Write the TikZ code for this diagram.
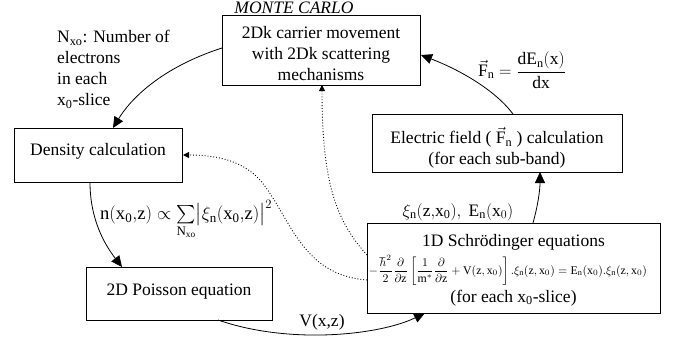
\documentclass[tikz,border=0pt]{standalone}
\usepackage{fontspec}
\setmainfont{Liberation Serif}
\usepackage{amsmath}
\usepackage{graphicx}
\usetikzlibrary{arrows.meta}
\begin{document}
\begin{tikzpicture}[x=1pt,y=-1pt,
  box/.style={draw,line width=0.9pt,inner sep=0pt,align=center,font=\fontsize{17.5}{21.5}\selectfont},
  lbl/.style={inner sep=0pt,font=\fontsize{17.5}{21}\selectfont},
  flow/.style={line width=0.8pt,-{Triangle[length=11pt,width=10pt]}},
  dot/.style={line width=0.9pt,dotted,-{Triangle[length=6pt,width=6pt]}}]
\useasboundingbox (0,0) rectangle (678,343);
% boxes
\node[box,minimum width=198pt,minimum height=70pt] (mc) at (321,50) {};
\node[lbl,align=center] (mct) at (321,54) {2Dk carrier movement\\with 2Dk scattering\\mechanisms};
\node[box,minimum width=168pt,minimum height=54pt] (dens) at (98,155) {};
\node[lbl] (denst) at (98,151) {Density calculation};
\node[box,minimum width=186pt,minimum height=53pt] (pois) at (179,293.5) {};
\node[lbl] (poist) at (179,292) {2D Poisson equation};
\node[box,minimum width=250pt,minimum height=58pt] (ef) at (497,143) {};
\node[lbl,align=center] (eft) at (497,148) {Electric field ( $\vec{\mathrm{F}}_{\mathrm{n}}$ ) calculation\\(for each sub-band)};
\node[box,minimum width=293pt,minimum height=90pt] (sch) at (513.5,268) {};
\node[lbl] (scht1) at (513.5,242) {1D Schrödinger equations};
\node[inner sep=0pt] (scheq) at (508,270) {\resizebox{278pt}{!}{$-\dfrac{\hbar^2}{2}\dfrac{\partial}{\partial \mathrm{z}}\left[\dfrac{1}{\mathrm{m}^*}\dfrac{\partial}{\partial \mathrm{z}}+\mathrm{V}(\mathrm{z},\mathrm{x}_0)\right].\xi_{\mathrm{n}}(\mathrm{z},\mathrm{x}_0)=\mathrm{E}_{\mathrm{n}}(\mathrm{x}_0).\xi_{\mathrm{n}}(\mathrm{z},\mathrm{x}_0)$}};
\node[lbl] (scht3) at (513.5,298) {(for each x\textsubscript{0}-slice)};
% title
\node[lbl,anchor=base,font=\fontsize{17.5}{21}\selectfont\itshape] (title) at (294,13) {\underline{MONTE CARLO}};
% labels
\node[lbl,anchor=north west,align=left] (nxo) at (57,30) {N\textsubscript{xo}: Number of\\electrons\\in each\\x\textsubscript{0}-slice};
\node[lbl] (flbl) at (522,70) {$\vec{\mathrm{F}}_{\mathrm{n}}=\dfrac{\mathrm{dE}_{\mathrm{n}}(\mathrm{x})}{\mathrm{dx}}$};
\node[lbl] (xilbl) at (458,212) {$\xi_{\mathrm{n}}(\mathrm{z{,}x_0}),\ \mathrm{E}_{\mathrm{n}}(\mathrm{x}_0)$};
\node[lbl,anchor=west] (nlbl) at (100,220) {\resizebox{172pt}{!}{$\mathrm{n(x_0{,}z)}\propto\sum\limits_{\mathrm{N_{xo}}}\bigl|\xi_{\mathrm{n}}(\mathrm{x_0{,}z})\bigr|^2$}};
\node[lbl] (vlbl) at (322,322) {V(x,z)};
% coordinates
\coordinate (a1) at (222,48);
\coordinate (a2) at (113,128);
\coordinate (b1) at (90,182);
\coordinate (b2) at (122,267);
\coordinate (c1) at (218,320);
\coordinate (c2) at (425,313);
\coordinate (d1) at (533,223);
\coordinate (d2) at (540,172);
\coordinate (e1) at (513,114);
\coordinate (e2) at (421,55);
\coordinate (f1) at (367,255);
\coordinate (f2) at (322,85);
\coordinate (g1) at (367,280);
\coordinate (g2) at (183,155);
% connectors
\draw[flow] (a1) .. controls (160,68) and (130,100) .. (a2);
\draw[flow] (b1) .. controls (90,220) and (105,245) .. (b2);
\draw[flow] (c1) .. controls (290,345) and (380,335) .. (c2);
\draw[flow] (d1) .. controls (538,205) and (540,190) .. (d2);
\draw[flow] (e1) .. controls (495,90) and (460,70) .. (e2);
\draw[dot] (f1) .. controls (335,220) and (322,180) .. (f2);
\draw[dot] (g1) .. controls (300,275) and (290,215) .. (260,180) .. controls (240,158) and (210,155) .. (g2);
\end{tikzpicture}
\end{document}
